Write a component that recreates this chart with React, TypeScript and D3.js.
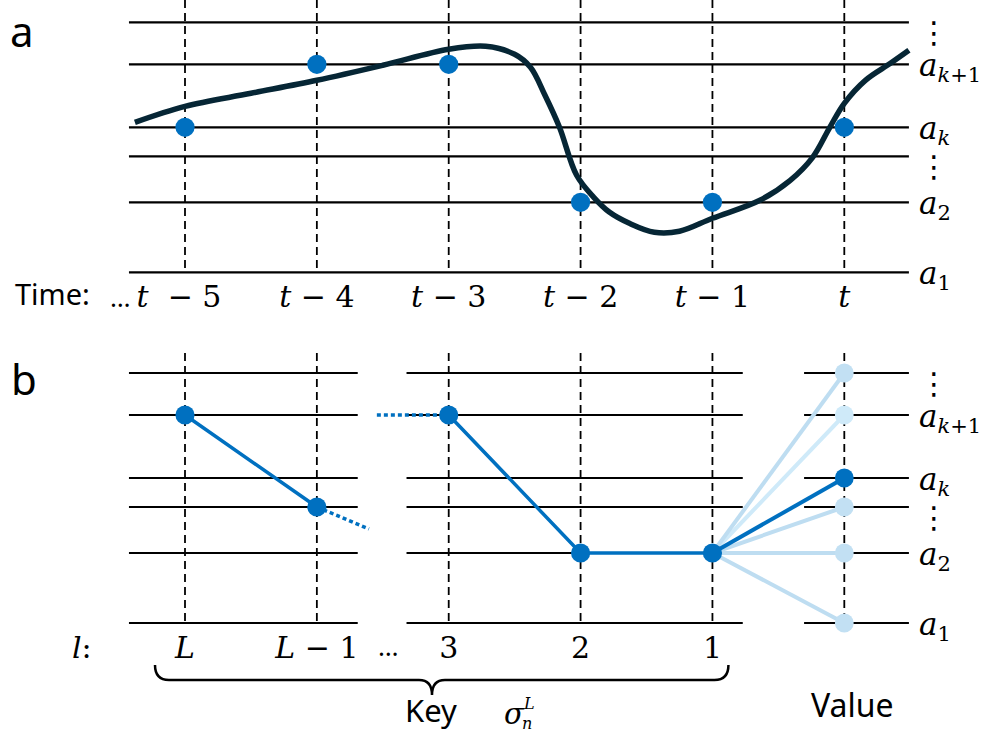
import * as d3 from "d3";

// time steps (panel a) / key slots (panel b) share one x axis
const timeSteps = [-5, -4, -3, -2, -1, 0];
const timeRest = [" − 5", " − 4", " − 3", " − 2", " − 1", ""];

// quantisation levels a1, a2, ⋮, ak, ak+1, ⋮
const levelValues = [0, 70, 116, 145, 208, 250];
const levelBase = ["a", "a", "⋮", "a", "a", "⋮"];
const levelSubVar = ["", "", "", "k", "k", ""];
const levelSubRest = ["1", "2", "", "", "+1", ""];

// observed (quantised) value at each time step, as level index
const observedLevel = [3, 4, 4, 1, 1, 3];

// continuous signal
const signalT = [-5.38, -5, -4.5, -4, -3.5, -3, -2.72, -2.5, -2.38, -2.27, -2.16, -2.03, -1.9, -1.78, -1.63, -1.44, -1.25, -1, -0.64, -0.41, -0.24, -0.11, 0, 0.16, 0.35, 0.49];
const signalV = [150, 166, 179, 192, 207, 223, 226, 218, 205, 177, 145, 97, 75, 60, 49, 40, 41, 54, 72, 92, 115, 145, 169, 192, 209, 222];

// panel b key
const keySlots = [-5, -4, -3, -2, -1];
const keyVar = ["L", "L", "", "", ""];
const keyRest = ["", " − 1", "3", "2", "1"];
const keyLevel = [4, 2, 4, 1, 1];
const trailOut = { t: -3.605, v: 94 };
const trailIn = { t: -3.545, v: 208 };
const valueSlot = 0;
const chosenLevel = 3;

const W = 989;
const H = 734;
const MATH = "'DejaVu Serif', serif";
const SANS = "'Noto Sans', sans-serif";
const BLUE = "#0070C0";
const NAVY = "#062635";

const x = d3.scaleLinear().domain([-5, 0]).range([185, 844.3]);
const yA = d3.scaleLinear().domain([0, 250]).range([272.3, 22.3]);
const yB = d3.scaleLinear().domain([0, 250]).range([623, 373]);

const gridA = [[-5.425, 0.49]];
const gridB = [[-5.425, -3.69], [-3.32, -0.77], [-0.305, 0.49]];

function LevelLabels({ y }: { y: d3.ScaleLinear<number, number> }) {
  return (
    <g>
      {levelValues.map((v, i) =>
        levelBase[i] === "⋮" ? (
          <text key={i} x={934} y={y(v) + 10} textAnchor="middle" dominantBaseline="central"
            fontFamily="'DejaVu Sans', sans-serif" fontSize={30}>⋮</text>
        ) : (
          <text key={i} x={919} y={y(v) + 12} fontFamily={MATH} fontSize={31}>
            <tspan fontStyle="italic">{levelBase[i]}</tspan>
            <tspan dy={6} fontSize={21}>
              <tspan fontStyle="italic">{levelSubVar[i]}</tspan>
              {levelSubRest[i]}
            </tspan>
          </text>
        )
      )}
    </g>
  );
}

function Grid({ y, segs }: { y: d3.ScaleLinear<number, number>; segs: number[][] }) {
  return (
    <g stroke="#000" strokeWidth={2.2}>
      {segs.map((s, j) =>
        levelValues.map((v, i) => (
          <line key={j + "-" + i} x1={x(s[0])} x2={x(s[1])} y1={y(v)} y2={y(v)} />
        ))
      )}
    </g>
  );
}

export default function App() {
  const signal = d3
    .line<number>()
    .x((_, i) => x(signalT[i]))
    .y((v) => yA(v))
    .curve(d3.curveCatmullRom.alpha(0.5))(signalV) as string;

  const keyPt = (i: number): [number, number] => [x(keySlots[i]), yB(levelValues[keyLevel[i]])];
  const line2 = d3.line();
  const solidKey = line2([keyPt(0), keyPt(1)]) + " " + line2([keyPt(2), keyPt(3), keyPt(4)]);
  const dotted =
    line2([keyPt(1), [x(trailOut.t), yB(trailOut.v)]]) + " " +
    line2([[x(trailIn.t), yB(trailIn.v)], keyPt(2)]);

  const from = keyPt(4);

  // brace under the key
  const bx0 = x(-5) - 30;
  const bx1 = x(-1) + 16;
  const bmid = 432;
  const p = d3.path();
  p.moveTo(bx0, 665);
  p.quadraticCurveTo(bx0, 680, bx0 + 14, 680);
  p.lineTo(bmid - 13, 680);
  p.quadraticCurveTo(bmid, 680, bmid, 695);
  p.quadraticCurveTo(bmid, 680, bmid + 13, 680);
  p.lineTo(bx1 - 14, 680);
  p.quadraticCurveTo(bx1, 680, bx1, 665);

  return (
    <svg width={W} height={H} style={{ position: "absolute", left: 0, top: 0, background: "#fff" }}>
      {/* panel a */}
      <text x={10} y={47} fontFamily={SANS} fontSize={42}>a</text>
      <Grid y={yA} segs={gridA} />
      <g stroke="#000" strokeWidth={1.8} strokeDasharray="8,5">
        {timeSteps.map((t) => (
          <line key={t} x1={x(t)} x2={x(t)} y1={0} y2={yA(0)} />
        ))}
      </g>
      <path d={signal} fill="none" stroke={NAVY} strokeWidth={5.5} />
      <g fill={BLUE}>
        {timeSteps.map((t, i) => (
          <circle key={t} cx={x(t)} cy={yA(levelValues[observedLevel[i]])} r={9.6} />
        ))}
      </g>
      <LevelLabels y={yA} />
      <text x={15} y={305} fontFamily={SANS} fontSize={29}>Time:</text>
      <text x={110} y={307} fontFamily={SANS} fontSize={26}>…</text>
      {timeSteps.map((t, i) => (
        <text key={t} x={x(t)} dx={i === 0 ? -6 : 0} y={307} textAnchor="middle" fontFamily={MATH} fontSize={30}
          style={{ whiteSpace: "pre" }}>
          <tspan fontStyle="italic">t</tspan>
          {i === 0 ? " " + timeRest[i] : timeRest[i]}
        </text>
      ))}

      {/* panel b */}
      <text x={11} y={395} fontFamily={SANS} fontSize={42}>b</text>
      <Grid y={yB} segs={gridB} />
      <g stroke="#000" strokeWidth={1.8} strokeDasharray="8,5">
        {[...keySlots, valueSlot].map((t) => (
          <line key={t} x1={x(t)} x2={x(t)} y1={353} y2={yB(0)} />
        ))}
      </g>
      <path d={dotted} fill="none" stroke={BLUE} strokeWidth={3.5} strokeDasharray="4,3" />
      <path d={solidKey} fill="none" stroke={BLUE} strokeWidth={3.5} />
      <g strokeWidth={4}>
        {levelValues.map((v, i) =>
          i === chosenLevel ? null : (
            <line key={i} x1={from[0]} y1={from[1]} x2={x(valueSlot)} y2={yB(v)}
              stroke={i === 4 ? "#CFEAF9" : "#BEDDF1"} />
          )
        )}
        <line x1={from[0]} y1={from[1]} x2={x(valueSlot)} y2={yB(levelValues[chosenLevel])} stroke={BLUE} />
      </g>
      <g fill={BLUE}>
        {keySlots.map((t, i) => (
          <circle key={t} cx={x(t)} cy={yB(levelValues[keyLevel[i]])} r={9.6} />
        ))}
      </g>
      {levelValues.map((v, i) => (
        <circle key={i} cx={x(valueSlot)} cy={yB(v)} r={9.4}
          fill={i === chosenLevel ? BLUE : i === 4 ? "#CFEAF9" : "#C2E0F3"} />
      ))}
      <LevelLabels y={yB} />
      <text x={72} y={658} fontFamily={MATH} fontSize={30}>
        <tspan fontStyle="italic">l</tspan>:
      </text>
      {keySlots.map((t, i) => (
        <text key={t} x={x(t)} y={658} textAnchor="middle" fontFamily={MATH} fontSize={30}>
          <tspan fontStyle="italic">{keyVar[i]}</tspan>
          {keyRest[i]}
        </text>
      ))}
      <text x={378} y={656} fontFamily={SANS} fontSize={26}>…</text>
      <path d={p.toString()} fill="none" stroke="#000" strokeWidth={2.5} />
      <text x={405} y={722} fontFamily={SANS} fontSize={31}>Key</text>
      <text x={504} y={724} fontFamily={MATH} fontSize={29} fontStyle="italic">σ</text>
      <text x={522} y={729} fontFamily={MATH} fontSize={16} fontStyle="italic">n</text>
      <text x={524} y={709} fontFamily={MATH} fontSize={16} fontStyle="italic">L</text>
      <text x={811} y={717} fontFamily={SANS} fontSize={32}>Value</text>
    </svg>
  );
}
